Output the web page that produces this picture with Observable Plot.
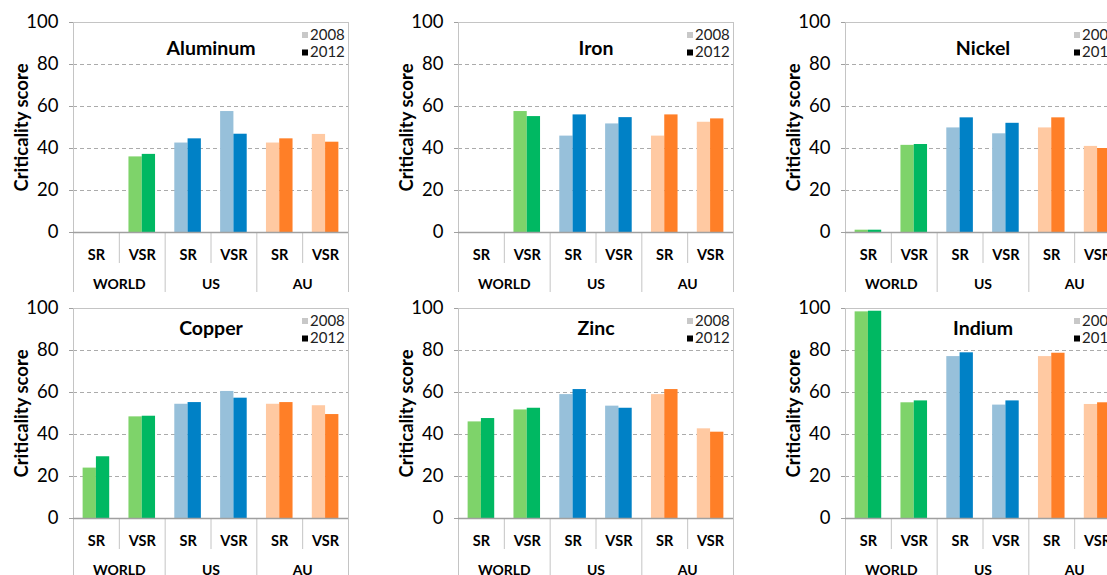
<!DOCTYPE html>
<html>
<head>
<meta charset="utf-8">
<script src="https://cdn.jsdelivr.net/npm/d3@7"></script>
<script src="https://cdn.jsdelivr.net/npm/@observablehq/plot@0.6"></script>
<style>
  html, body { margin: 0; padding: 0; background: #fff; overflow: hidden; }
  #wrap { position: relative; width: 1107px; height: 575px; overflow: hidden; font-family: Lato, sans-serif; }
  .panel { position: absolute; width: 370px; height: 295px; }
  .panel svg { max-width: none !important; }
</style>
</head>
<body>
<div id="wrap"></div>
<script>
// ---- data ----
const materials = ["Aluminum", "Iron", "Nickel", "Copper", "Zinc", "Indium"];
const regions = ["WORLD", "US", "AU"];
const types = ["SR", "VSR"];
const years = ["2008", "2012"];
const yTicks = [0, 20, 40, 60, 80, 100];
const yLabel = "Criticality score";

// order: WORLD SR, WORLD VSR, US SR, US VSR, AU SR, AU VSR
const aluminum2008 = [null, 36.0, 42.6, 57.6, 42.6, 46.7];
const aluminum2012 = [null, 37.2, 44.6, 46.8, 44.6, 43.0];
const iron2008 = [null, 57.6, 45.9, 51.7, 45.9, 52.5];
const iron2012 = [null, 55.2, 56.0, 54.7, 56.0, 54.1];
const nickel2008 = [1.1, 41.5, 49.8, 47.0, 49.8, 41.0];
const nickel2012 = [1.1, 41.9, 54.6, 52.0, 54.6, 40.0];
const copper2008 = [24.0, 48.4, 54.4, 60.5, 54.4, 53.7];
const copper2012 = [29.4, 48.7, 55.2, 57.3, 55.2, 49.5];
const zinc2008 = [46.0, 51.7, 59.0, 53.5, 59.0, 42.7];
const zinc2012 = [47.6, 52.5, 61.4, 52.5, 61.4, 41.1];
const indium2008 = [98.4, 55.1, 77.1, 54.0, 77.1, 54.3];
const indium2012 = [98.7, 56.0, 78.9, 56.0, 78.7, 55.1];

const series = {
  Aluminum: [aluminum2008, aluminum2012],
  Iron: [iron2008, iron2012],
  Nickel: [nickel2008, nickel2012],
  Copper: [copper2008, copper2012],
  Zinc: [zinc2008, zinc2012],
  Indium: [indium2008, indium2012]
};

const colors2008 = { WORLD: "#7ED36A", US: "#97C0DA", AU: "#FFC9A2" };
const colors2012 = { WORLD: "#00B862", US: "#0081C6", AU: "#FF7F27" };
const legendColors = { "2008": "#C8C8C8", "2012": "#000000" };

// ---- layout ----
const panelW = 370, panelH = 295;
const mLeft = 73, plotW = 275, mTop = 22, plotH = 210;
const colLeft = [0, 385, 772];
const rowTop = [0, 286];
const titleDy = [26.5, 20.5];
const pxPerUnit = plotH / 100;
const typeDepth = 31 / pxPerUnit;   // depth of SR/VSR row below zero, in score units
const groupDepth = 60 / pxPerUnit;  // depth of group row below zero

const categories = regions.flatMap(r => types.map(t => ({ region: r, type: t })));
categories.forEach((c, i) => c.i = i);

const barW = 0.29;

const wrap = document.getElementById("wrap");

materials.forEach((mat, k) => {
  const col = k % 3, row = Math.floor(k / 3);
  const [v08, v12] = series[mat];
  const bars = [];
  categories.forEach((c, i) => {
    if (v08[i] != null) bars.push({ i, year: "2008", value: v08[i], color: colors2008[c.region] });
    if (v12[i] != null) bars.push({ i, year: "2012", value: v12[i], color: colors2012[c.region] });
  });

  const chart = Plot.plot({
    width: panelW,
    height: panelH,
    marginLeft: mLeft,
    marginRight: panelW - mLeft - plotW,
    marginTop: mTop,
    marginBottom: panelH - mTop - plotH,
    style: { fontFamily: "Lato, sans-serif", background: "transparent", overflow: "visible", maxWidth: "none" },
    x: { domain: [0, categories.length], axis: null },
    y: { domain: [0, 100], axis: null },
    color: { type: "identity" },
    marks: [
      // gridlines
      Plot.ruleY(yTicks.filter(t => t > 0 && t < 100), { stroke: "#ABABAB", strokeDasharray: "4,3", strokeWidth: 1 }),
      Plot.ruleY([100], { stroke: "#C4C4C4", strokeWidth: 1 }),
      // outer borders
      Plot.ruleX([0, categories.length], { y1: 100, y2: -groupDepth, stroke: "#C4C4C4", strokeWidth: 1 }),
      // SR / VSR separators
      Plot.ruleX(regions.map((r, j) => 2 * j + 1), { y1: 0, y2: -typeDepth, stroke: "#C4C4C4", strokeWidth: 1 }),
      // region separators
      Plot.ruleX(regions.slice(1).map((r, j) => 2 * (j + 1)), { y1: 0, y2: -groupDepth, stroke: "#C4C4C4", strokeWidth: 1 }),
      // bars
      Plot.rectY(bars, {
        x1: d => d.i + 0.5 - (d.year === "2008" ? barW : 0),
        x2: d => d.i + 0.5 + (d.year === "2012" ? barW : 0),
        y1: 0,
        y2: "value",
        fill: "color"
      }),
      // zero line
      Plot.ruleY([0], { stroke: "#A0A0A0", strokeWidth: 1.4 }),
      // y axis
      Plot.axisY({ ticks: yTicks, tickSize: 4, tickPadding: 11, fontSize: 18.5, stroke: "#A0A0A0", label: null, tickFormat: d => String(d) }),
      Plot.text([yLabel], { frameAnchor: "left", dx: -51, rotate: -90, textAnchor: "middle", lineAnchor: "middle", fontSize: 18.5, fontWeight: "bold", fill: "#000" }),
      // category labels
      Plot.text(categories, { x: d => d.i + 0.5, y: 0, dy: 23, text: "type", lineAnchor: "middle", fontSize: 14.5, fontWeight: "bold", fill: "#000" }),
      Plot.text(regions, { x: (r, j) => 2 * j + 1, y: 0, dy: 52, text: d => d, lineAnchor: "middle", fontSize: 14, fontWeight: "bold", fill: "#000" }),
      // title
      Plot.text([mat], { frameAnchor: "top", dy: titleDy[row], textAnchor: "middle", lineAnchor: "middle", fontSize: 19.5, fontWeight: "bold", fill: "#000" }),
      // legend
      ...years.map((yr, j) => Plot.dot([yr], { frameAnchor: "top-right", dx: -43.5, dy: 12.5 + j * 17.5, symbol: "square", r: 3.4, fill: legendColors[yr] })),
      ...years.map((yr, j) => Plot.text([yr], { frameAnchor: "top-right", dx: -38.5, dy: 12.5 + j * 17.5, textAnchor: "start", lineAnchor: "middle", fontSize: 15, fill: "#222" }))
    ]
  });

  const div = document.createElement("div");
  div.className = "panel";
  div.style.left = colLeft[col] + "px";
  div.style.top = rowTop[row] + "px";
  div.appendChild(chart);
  wrap.appendChild(div);
});
</script>
</body>
</html>
